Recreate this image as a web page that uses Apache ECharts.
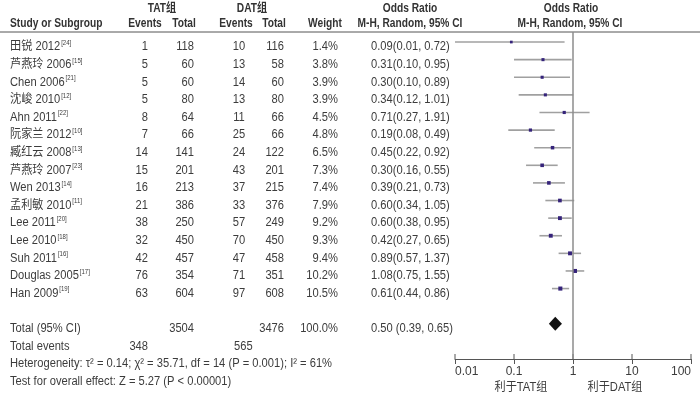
<!DOCTYPE html>
<html>
<head>
<meta charset="utf-8">
<script src="https://cdn.jsdelivr.net/npm/echarts@6/dist/echarts.min.js"></script>
<style>
  html, body { margin: 0; padding: 0; background: #fff; }
  #chart { width: 700px; height: 396px; }
</style>
</head>
<body>
<div id="chart"></div>
<script>
// study data
const studies = ['田锐 2012', '芦燕玲 2006', 'Chen 2006', '沈峻 2010', 'Ahn 2011', '阮家兰 2012', '臧红云 2008', '芦燕玲 2007', 'Wen 2013', '孟利敏 2010', 'Lee 2011', 'Lee 2010', 'Suh 2011', 'Douglas 2005', 'Han 2009']
const refs = [24, 15, 21, 12, 22, 10, 13, 23, 14, 11, 20, 18, 16, 17, 19]
const tatEvents = [1, 5, 5, 5, 8, 7, 14, 15, 16, 21, 38, 32, 42, 76, 63]
const tatTotal = [118, 60, 60, 80, 64, 66, 141, 201, 213, 386, 250, 450, 457, 354, 604]
const datEvents = [10, 13, 14, 13, 11, 25, 24, 43, 37, 33, 57, 70, 47, 71, 97]
const datTotal = [116, 58, 60, 80, 66, 66, 122, 201, 215, 376, 249, 450, 458, 351, 608]
const weights = [1.4, 3.8, 3.9, 3.9, 4.5, 4.8, 6.5, 7.3, 7.4, 7.9, 9.2, 9.3, 9.4, 10.2, 10.5]
const oddsRatio = [0.09, 0.31, 0.30, 0.34, 0.71, 0.19, 0.45, 0.30, 0.39, 0.60, 0.60, 0.42, 0.89, 1.08, 0.61]
const ciLow = [0.01, 0.10, 0.10, 0.12, 0.27, 0.08, 0.22, 0.16, 0.21, 0.34, 0.38, 0.27, 0.57, 0.75, 0.44]
const ciHigh = [0.72, 0.95, 0.89, 1.01, 1.91, 0.49, 0.92, 0.55, 0.73, 1.05, 0.95, 0.65, 1.37, 1.55, 0.86]

const totalTat = 3504
const totalDat = 3476
const totalWeight = '100.0%'
const pooled = [0.39, 0.65, 0.50]   // low, high, estimate
const totalEventsTat = 348
const totalEventsDat = 565
const heterogeneityText = 'Heterogeneity: τ² = 0.14; χ² = 35.71, df = 14 (P = 0.001); I² = 61%'
const overallText = 'Test for overall effect: Z = 5.27 (P < 0.00001)'
const xTicks = [0.01, 0.1, 1, 10, 100]
const favourLeft = '利于TAT组'
const favourRight = '利于DAT组'

const baseFont = "'Liberation Sans', Arial, 'Noto Sans CJK SC', sans-serif"
const textColor = '#3c3c3c'

const fmt = v => v.toFixed(2)
const ciText = (o, l, h, sp) => fmt(o) + (sp ? ' (' : '(') + fmt(l) + ', ' + fmt(h) + ')'

// table cells: column x, row, text, align, bold
const cells = []
const cell = (x, row, text, align, bold, rich) => cells.push({ x, row, text, align, bold, rich })

cell(162, -2.2, 'TAT组', 'center', true)
cell(252, -2.2, 'DAT组', 'center', true)
cell(410, -2.2, 'Odds Ratio', 'center', true)
cell(571, -2.2, 'Odds Ratio', 'center', true)
cell(10, -1.3, 'Study or Subgroup', 'left', true)
cell(145, -1.3, 'Events', 'center', true)
cell(184, -1.3, 'Total', 'center', true)
cell(236, -1.3, 'Events', 'center', true)
cell(274, -1.3, 'Total', 'center', true)
cell(325, -1.3, 'Weight', 'center', true)
cell(410, -1.3, 'M-H, Random, 95% CI', 'center', true)
cell(570, -1.3, 'M-H, Random, 95% CI', 'center', true)

studies.forEach((s, i) => {
  cell(10, i, '{n|' + s + '}{s|[' + refs[i] + ']}', 'left', false, true)
  cell(148, i, String(tatEvents[i]), 'right')
  cell(194, i, String(tatTotal[i]), 'right')
  cell(239, i, String(datEvents[i]), 'center')
  cell(284, i, String(datTotal[i]), 'right')
  cell(338, i, weights[i].toFixed(1) + '%', 'right')
  cell(371, i, ciText(oddsRatio[i], ciLow[i], ciHigh[i], false), 'left')
})

cell(10, 16, 'Total (95% CI)', 'left')
cell(194, 16, String(totalTat), 'right')
cell(284, 16, String(totalDat), 'right')
cell(338, 16, totalWeight, 'right')
cell(371, 16, ciText(pooled[2], pooled[0], pooled[1], true), 'left')
cell(10, 17, 'Total events', 'left')
cell(148, 17, String(totalEventsTat), 'right')
cell(234, 17, String(totalEventsDat), 'left')
cell(10, 18, heterogeneityText, 'left')
cell(10, 19, overallText, 'left')
cell(521, 19.38, favourLeft, 'center')
cell(615, 19.38, favourRight, 'center')

const tableData = cells.map((c, i) => [c.x, c.row, i])
const studyData = studies.map((s, i) => [ciLow[i], ciHigh[i], oddsRatio[i], i, weights[i]])
const axisRow = 18

const chart = echarts.init(document.getElementById('chart'))

const option = {
  animation: false,
  backgroundColor: '#fff',
  graphic: [{
    type: 'line',
    shape: { x1: 0, y1: 32, x2: 700, y2: 32 },
    style: { stroke: '#555', lineWidth: 1 }
  }],
  grid: [
    { left: 0, right: 0, top: 0, bottom: 0 },
    { left: 455, right: 9, top: 32, bottom: 37 }
  ],
  xAxis: [
    { gridIndex: 0, type: 'value', min: 0, max: 700, show: false },
    {
      gridIndex: 1, type: 'log', logBase: 10, min: 0.01, max: 100, splitNumber: 4,
      position: 'bottom',
      axisLine: { onZero: false, lineStyle: { color: '#555', width: 1 } },
      axisTick: { length: 5, lineStyle: { color: '#555', width: 1 } },
      splitLine: { show: false },
      axisLabel: {
        margin: 7, fontSize: 12, color: textColor, fontFamily: baseFont,
        alignMinLabel: 'left', alignMaxLabel: 'right',
        formatter: v => (xTicks.indexOf(+v) >= 0 ? String(+v) : '')
      }
    }
  ],
  yAxis: [
    { gridIndex: 0, type: 'value', inverse: true, min: -2.67, max: 19.83, show: false },
    { gridIndex: 1, type: 'value', inverse: true, min: -0.57, max: 18.0, show: false }
  ],
  series: [
    {
      // table text, drawn slightly condensed like the original typeface
      type: 'custom',
      xAxisIndex: 0, yAxisIndex: 0,
      silent: true,
      data: tableData,
      encode: { x: 0, y: 1 },
      renderItem: (params, api) => {
        const c = cells[api.value(2)]
        const pt = api.coord([api.value(0), api.value(1)])
        return {
          type: 'text',
          x: pt[0], y: pt[1],
          scaleX: c.bold ? 0.85 : 0.93,
          style: {
            text: c.text,
            x: 0, y: 0,
            align: c.align,
            verticalAlign: 'middle',
            fontFamily: baseFont,
            fontSize: 12,
            fontWeight: c.bold ? 'bold' : 'normal',
            fill: c.bold ? '#333' : textColor,
            rich: c.rich ? {
              n: { fontFamily: baseFont, fontSize: 12, fill: textColor, lineHeight: 14 },
              s: { fontFamily: baseFont, fontSize: 6.5, fill: textColor, lineHeight: 14, verticalAlign: 'top', padding: [0, 0, 6, 1] }
            } : undefined
          }
        }
      }
    },
    {
      // upper half of the axis ticks (ticks cross the axis line)
      type: 'custom',
      xAxisIndex: 1, yAxisIndex: 1,
      silent: true,
      data: xTicks.map(v => [v, axisRow]),
      encode: { x: 0, y: 1 },
      renderItem: (params, api) => {
        const p = api.coord([api.value(0), api.value(1)])
        return {
          type: 'line',
          shape: { x1: p[0], y1: p[1] - 5, x2: p[0], y2: p[1] },
          style: { stroke: '#555', lineWidth: 1 }
        }
      }
    },
    {
      type: 'custom',
      xAxisIndex: 1, yAxisIndex: 1,
      silent: true,
      data: studyData,
      encode: { x: [0, 1, 2], y: 3 },
      renderItem: (params, api) => {
        const row = api.value(3)
        const p1 = api.coord([api.value(0), row])
        const p2 = api.coord([api.value(1), row])
        const pc = api.coord([api.value(2), row])
        const size = 2.5 + api.value(4) * 0.15
        return {
          type: 'group',
          children: [
            {
              type: 'line',
              shape: { x1: p1[0], y1: p1[1], x2: p2[0], y2: p2[1] },
              style: { stroke: '#a0a0a0', lineWidth: 1.6 }
            },
            {
              type: 'rect',
              shape: { x: pc[0] - size / 2, y: pc[1] - size / 2, width: size, height: size },
              style: { fill: '#35237a' }
            }
          ]
        }
      },
      markLine: {
        silent: true,
        symbol: 'none',
        label: { show: false },
        lineStyle: { color: '#8c8c8c', width: 1.5, type: 'solid' },
        data: [{ xAxis: 1 }]
      }
    },
    {
      type: 'custom',
      xAxisIndex: 1, yAxisIndex: 1,
      silent: true,
      data: [[pooled[0], pooled[1], pooled[2], 16]],
      encode: { x: [0, 1, 2], y: 3 },
      renderItem: (params, api) => {
        const row = api.value(3)
        const lo = api.coord([api.value(0), row])
        const hi = api.coord([api.value(1), row])
        const c = api.coord([api.value(2), row])
        const h = 7
        return {
          type: 'polygon',
          shape: { points: [lo, [c[0], c[1] - h], hi, [c[0], c[1] + h]] },
          style: { fill: '#111' }
        }
      }
    }
  ]
}

chart.setOption(option)
</script>
</body>
</html>
